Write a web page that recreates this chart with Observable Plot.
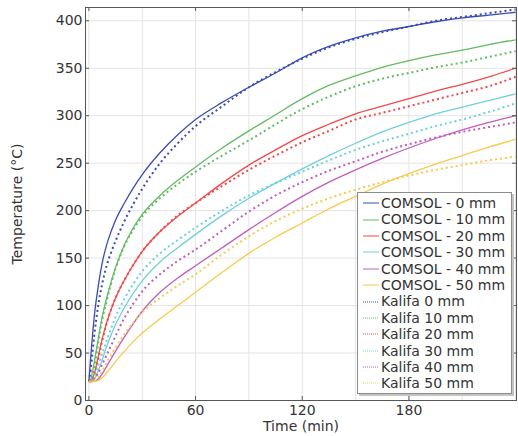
<!DOCTYPE html>
<html><head><meta charset="utf-8">
<script src="https://cdn.jsdelivr.net/npm/d3@7"></script>
<script src="https://cdn.jsdelivr.net/npm/@observablehq/plot@0.6"></script>
<style>
body{margin:0;background:#fff;}
#wrap{position:relative;width:518px;height:436px;font-family:"DejaVu Sans",sans-serif;}
#legend{position:absolute;left:357px;top:192px;width:153px;height:198px;background:#fff;border:1px solid #8c8c8c;box-shadow:2px 2px 0 #c4c4c4;font-size:14px;color:#333;padding-top:2px;box-sizing:content-box;}
.row{height:16.4px;line-height:16.4px;display:flex;align-items:center;white-space:nowrap;}
.row svg{margin-left:4.5px;margin-right:2.5px;flex:none;}
</style></head><body><div id="wrap"></div>
<script>
const time    = [0, 1, 2, 3, 5, 7.5, 10, 12.5, 15, 20, 25, 30, 40, 50, 60, 75, 90, 105, 120, 135, 150, 165, 180, 195, 210, 225, 240];
const comsol0 = [20, 45, 68, 88, 117, 145, 164, 178, 190, 208, 224, 238, 261, 280, 296, 314, 330, 345, 361, 373, 382, 389, 394, 399, 403, 406, 409];
const comsol10= [20, 22, 30, 40, 62, 88, 108, 125, 140, 164, 182, 196, 216, 232, 246, 266, 284, 301, 318, 332, 342, 351, 358, 364, 369, 375, 380];
const comsol20= [20, 20.5, 23, 28, 44, 65, 82, 96, 108, 127, 143, 157, 178, 194, 208, 229, 248, 264, 279, 291, 302, 310, 318, 326, 333, 341, 350];
const comsol30= [20, 20, 20.5, 22, 30, 43, 57, 69, 80, 98, 113, 126, 146, 161, 175, 195, 213, 229, 244, 258, 271, 283, 293, 302, 309, 316, 323];
const comsol40= [20, 20, 20, 20.5, 22, 28, 36, 44, 52, 67, 81, 94, 114, 129, 142, 161, 180, 198, 215, 230, 243, 255, 266, 276, 285, 293, 300];
const comsol50= [20, 20, 20, 20, 21, 24, 29, 35, 41, 52, 62, 71, 86, 100, 114, 135, 155, 172, 187, 202, 215, 228, 239, 249, 258, 267, 275];
const kalifa0 = [20, 32, 50, 68, 97, 123, 142, 156, 168, 189, 207, 223, 250, 271, 289, 310, 330, 346, 360, 372, 381, 388, 394, 400, 404, 408, 412];
const kalifa10= [20, 21, 26, 35, 58, 85, 105, 123, 139, 163, 180, 194, 213, 228, 241, 258, 274, 291, 307, 320, 331, 339, 345, 351, 356, 362, 368];
const kalifa20= [20, 20.5, 22, 26, 42, 63, 81, 96, 108, 127, 143, 157, 178, 195, 208, 226, 243, 258, 272, 284, 296, 303, 310, 317, 324, 331, 341];
const kalifa30= [20, 20, 21, 24, 35, 50, 63, 76, 88, 107, 123, 136, 155, 169, 182, 200, 216, 229, 241, 253, 264, 273, 281, 289, 296, 304, 313];
const kalifa40= [20, 20.5, 21, 23, 28, 38, 48, 58, 68, 87, 102, 115, 133, 147, 159, 179, 199, 216, 230, 242, 252, 262, 270, 277, 283, 288, 293];
const kalifa50= [20, 20, 20.5, 21, 24, 31, 40, 48, 56, 70, 82, 93, 108, 121, 133, 154, 173, 189, 202, 213, 222, 230, 237, 243, 248, 253, 257];

const comsolNames = ["COMSOL - 0 mm","COMSOL - 10 mm","COMSOL - 20 mm","COMSOL - 30 mm","COMSOL - 40 mm","COMSOL - 50 mm"];
const kalifaNames = ["Kalifa 0 mm","Kalifa 10 mm","Kalifa 20 mm","Kalifa 30 mm","Kalifa 40 mm","Kalifa 50 mm"];
const palette = ["#3b4cb0","#63bb63","#f24848","#70cfdc","#c05dbd","#f9c94e"];
const xTicks = [0, 60, 120, 180];
const xGrid = [0, 30, 60, 90, 120, 150, 180, 210, 240];
const yTicks = [0, 50, 100, 150, 200, 250, 300, 350, 400];
const xTitle = "Time (min)";
const yTitle = "Temperature (°C)";

const comsol = [comsol0, comsol10, comsol20, comsol30, comsol40, comsol50];
const kalifa = [kalifa0, kalifa10, kalifa20, kalifa30, kalifa40, kalifa50];

const series = [
  ...comsol.map((v, i) => ({name: comsolNames[i], values: v, color: palette[i], dotted: false})),
  ...kalifa.map((v, i) => ({name: kalifaNames[i], values: v, color: palette[i], dotted: true}))
];

const W = 518, H = 436, mL = 85, mR = 2, mT = 7, mB = 36;
const innerW = W - mL - mR, innerH = H - mT - mB;
const frameColor = "#555";

const marks = [
  Plot.gridX(xGrid, {stroke: "#e4e4e4", strokeOpacity: 1}),
  Plot.gridY(yTicks, {stroke: "#e4e4e4", strokeOpacity: 1}),
  ...series.map(s => Plot.line(time.map((t, i) => ({t, v: s.values[i]})), {
    x: "t", y: "v", stroke: s.color,
    strokeWidth: s.dotted ? 2 : 1.3,
    strokeDasharray: s.dotted ? "2,3" : null,
    strokeLinecap: "butt",
    curve: "monotone-x"
  })),
  Plot.frame({stroke: frameColor}),
  Plot.tickX(xTicks, {x: d => d, insetTop: innerH - 4, stroke: frameColor}),
  Plot.tickX(xTicks, {x: d => d, insetBottom: innerH - 4, stroke: frameColor}),
  Plot.tickY(yTicks, {y: d => d, insetRight: innerW - 4, stroke: frameColor}),
  Plot.tickY(yTicks, {y: d => d, insetLeft: innerW - 4, stroke: frameColor}),
  Plot.axisX(xTicks, {tickSize: 0, tickPadding: 5, label: null, fill: "#333"}),
  Plot.axisY(yTicks, {tickSize: 0, tickPadding: 3, label: null, fill: "#333"}),
  Plot.text([xTitle], {frameAnchor: "bottom", lineAnchor: "middle", textAnchor: "middle", dy: 26.5, fill: "#333"}),
  Plot.text([yTitle], {frameAnchor: "left", lineAnchor: "middle", textAnchor: "middle", dx: -68, rotate: -90, fill: "#333"})
];

const chart = Plot.plot({
  width: W, height: H,
  marginLeft: mL, marginRight: mR, marginTop: mT, marginBottom: mB,
  style: {fontFamily: "DejaVu Sans, sans-serif", fontSize: "14px", color: "#333", background: "#fff"},
  x: {domain: [-1.9, 240.5]},
  y: {domain: [0, 414]},
  marks
});
const wrap = document.getElementById("wrap");
wrap.appendChild(chart);

const legend = document.createElement("div");
legend.id = "legend";
series.forEach(s => {
  const row = document.createElement("div");
  row.className = "row";
  const dash = s.dotted ? ' stroke-dasharray="1,1"' : '';
  row.innerHTML = `<svg width="16" height="6"><line x1="0" y1="3" x2="16" y2="3" stroke="${s.color}" stroke-width="1"${dash}/></svg><span>${s.name}</span>`;
  legend.appendChild(row);
});
wrap.appendChild(legend);
</script>
</body></html>
